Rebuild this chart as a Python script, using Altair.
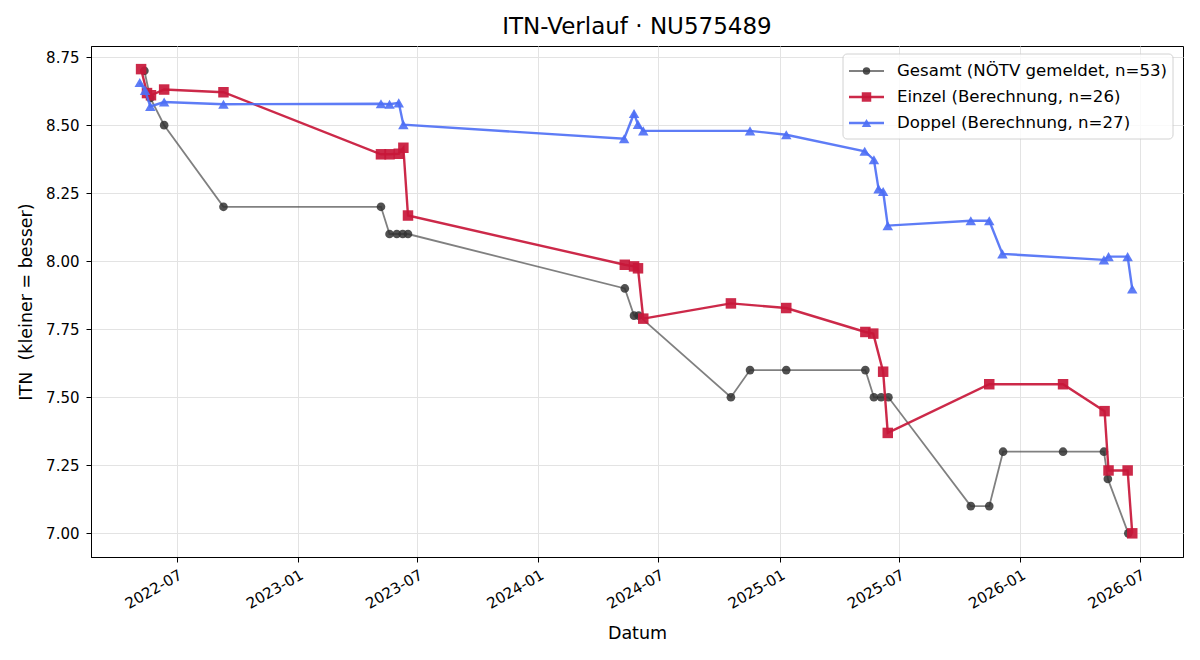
import altair as alt
import pandas as pd

# --- ITN history for player NU575489 ---------------------------------------
gesamt_dates = [
    "2022-05-13", "2022-05-22", "2022-06-12", "2022-09-10", "2023-05-07",
    "2023-05-20", "2023-05-31", "2023-06-09", "2023-06-17", "2024-05-11",
    "2024-05-25", "2024-06-01", "2024-10-19", "2024-11-17", "2025-01-11",
    "2025-05-11", "2025-05-24", "2025-06-04", "2025-06-15", "2025-10-18",
    "2025-11-15", "2025-12-06", "2026-03-07", "2026-05-08", "2026-05-14",
    "2026-06-14",
]
gesamt_itn = [
    8.70, 8.60, 8.50, 8.20, 8.20,
    8.10, 8.10, 8.10, 8.10, 7.90,
    7.80, 7.80, 7.50, 7.60, 7.60,
    7.60, 7.50, 7.50, 7.50, 7.10,
    7.10, 7.30, 7.30, 7.30, 7.20,
    7.00,
]

einzel_dates = [
    "2022-05-08", "2022-05-17", "2022-05-23", "2022-06-12", "2022-09-10",
    "2023-05-07", "2023-05-20", "2023-06-03", "2023-06-10", "2023-06-17",
    "2024-05-11", "2024-05-25", "2024-05-31", "2024-06-08", "2024-10-19",
    "2025-01-11", "2025-05-11", "2025-05-23", "2025-06-07", "2025-06-14",
    "2025-11-15", "2026-03-07", "2026-05-09", "2026-05-15", "2026-06-13",
    "2026-06-20",
]
einzel_itn = [
    8.706, 8.618, 8.610, 8.631, 8.621,
    8.393, 8.393, 8.395, 8.417, 8.168,
    7.987, 7.981, 7.974, 7.789, 7.845,
    7.828, 7.740, 7.734, 7.594, 7.369,
    7.548, 7.548, 7.449, 7.231, 7.231,
    7.000,
]

doppel_dates = [
    "2022-05-06", "2022-05-14", "2022-05-22", "2022-06-12", "2022-09-10",
    "2023-05-07", "2023-05-20", "2023-06-03", "2023-06-10", "2024-05-10",
    "2024-05-25", "2024-05-31", "2024-06-08", "2024-11-17", "2025-01-11",
    "2025-05-10", "2025-05-24", "2025-05-31", "2025-06-07", "2025-06-14",
    "2025-10-18", "2025-11-15", "2025-12-05", "2026-05-08", "2026-05-15",
    "2026-06-13", "2026-06-20",
]
doppel_itn = [
    8.657, 8.628, 8.569, 8.585, 8.577,
    8.579, 8.577, 8.582, 8.502, 8.450,
    8.543, 8.503, 8.479, 8.479, 8.465,
    8.404, 8.373, 8.266, 8.256, 8.131,
    8.149, 8.149, 8.027, 8.005, 8.017,
    8.017, 7.898,
]

series_labels = [
    "Gesamt (NÖTV gemeldet, n=53)",
    "Einzel (Berechnung, n=26)",
    "Doppel (Berechnung, n=27)",
]

y_ticks = [7.00, 7.25, 7.50, 7.75, 8.00, 8.25, 8.50, 8.75]
x_tick_months = [(2022, 7), (2023, 1), (2023, 7), (2024, 1), (2024, 7),
                 (2025, 1), (2025, 7), (2026, 1), (2026, 7)]

GRAY_LINE, GRAY_DOT = "#555555", "#333333"
RED = "#C8173A"
BLUE = "#4C6EF5"

W, H = 1092, 511


def frame(dates, values):
    return pd.DataFrame({"datum": dates, "itn": values})


x_enc = alt.X(
    "datum:T",
    title="Datum",
    scale=alt.Scale(
        type="utc",
        domain=[alt.DateTime(year=2022, month=2, date=21, utc=True),
                alt.DateTime(year=2026, month=9, date=5, utc=True)],
    ),
    axis=alt.Axis(
        values=[alt.DateTime(year=y, month=m, date=1, utc=True) for y, m in x_tick_months],
        format="%Y-%m",
        labelAngle=330,
        labelAlign="right",
        labelBaseline="top",
        labelPadding=5,
        titleY=76,
        titleBaseline="middle",
    ),
)
y_enc = alt.Y(
    "itn:Q",
    title="ITN\u00a0 (kleiner = besser)",
    scale=alt.Scale(domain=[6.913, 8.791], nice=False, zero=False),
    axis=alt.Axis(
        values=y_ticks,
        format=".2f",
        labelPadding=7,
        titleX=-65,
        titleY=H / 2,
        titleAngle=270,
        titleAlign="center",
        titleBaseline="middle",
    ),
)


def series(df, color, width, opacity, shape, size, dot_color=None, dot_opacity=None):
    base = alt.Chart(df).encode(x=x_enc, y=y_enc)
    line = base.mark_line(color=color, strokeWidth=width, opacity=opacity)
    pts = base.mark_point(
        shape=shape, filled=True, size=size,
        color=dot_color or color,
        opacity=dot_opacity if dot_opacity is not None else opacity,
    )
    return line + pts


gesamt = series(frame(gesamt_dates, gesamt_itn), GRAY_LINE, 1.8, 0.75,
                "circle", 75, GRAY_DOT, 0.85)
einzel = series(frame(einzel_dates, einzel_itn), RED, 2.4, 0.92, "square", 110)
doppel = series(frame(doppel_dates, doppel_itn), BLUE, 2.4, 0.9, "triangle-up", 110)

# --- legend box (top right inside the axes) --------------------------------
one = pd.DataFrame({"k": [0]})
legend_layers = [
    alt.Chart(one).mark_rect(fill="white", stroke="#cccccc", strokeWidth=1,
                             cornerRadius=4, opacity=0.85).encode(
        x=alt.value(752), x2=alt.value(1082), y=alt.value(8), y2=alt.value(93))
]
legend_style = [
    (GRAY_LINE, 1.8, 0.75, "circle", 55, GRAY_DOT, 0.85),
    (RED, 2.4, 0.92, "square", 90, RED, 0.92),
    (BLUE, 2.4, 0.9, "triangle-up", 90, BLUE, 0.9),
]
for i, (label, (lc, lw, lo, shp, sz, dc, do)) in enumerate(zip(series_labels, legend_style)):
    ypos = 25 + 26 * i
    legend_layers.append(
        alt.Chart(one).mark_rule(color=lc, strokeWidth=lw, opacity=lo).encode(
            x=alt.value(758), x2=alt.value(793), y=alt.value(ypos)))
    legend_layers.append(
        alt.Chart(one).mark_point(shape=shp, filled=True, size=sz, color=dc, opacity=do).encode(
            x=alt.value(775.5), y=alt.value(ypos)))
    legend_layers.append(
        alt.Chart(one).mark_text(align="left", baseline="middle", fontSize=16.6, color="black").encode(
            x=alt.value(806), y=alt.value(ypos), text=alt.value(label)))

chart = alt.layer(gesamt, einzel, doppel, *legend_layers).properties(
    width=W,
    height=H,
    padding={"left": 91, "top": 46, "right": 17, "bottom": 103},
    autosize=alt.AutoSizeParams(type="none"),
    title=alt.TitleParams(
        "ITN-Verlauf · NU575489", fontSize=23, fontWeight="normal",
        anchor="middle", frame="group", offset=7, color="black",
    ),
).configure(
    font="DejaVu Sans",
    background="white",
).configure_view(
    stroke="black", strokeWidth=1,
).configure_axis(
    domainColor="black",
    domainWidth=1,
    tickColor="black",
    tickSize=5,
    labelColor="black",
    labelFontSize=15,
    titleColor="black",
    titleFontSize=17.5,
    titleFontWeight="normal",
    gridColor="#e3e3e3",
    gridWidth=1,
)

chart.save("out.html", embed_options={"renderer": "svg", "actions": False})
